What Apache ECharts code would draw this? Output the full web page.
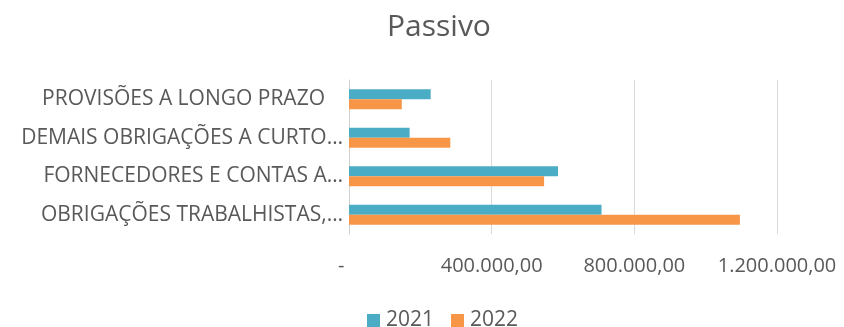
<!DOCTYPE html>
<html>
<head>
<meta charset="utf-8">
<script src="https://cdn.jsdelivr.net/npm/echarts@6/dist/echarts.min.js"></script>
<style>
  html, body { margin: 0; padding: 0; background: #fff; }
  #chart { width: 844px; height: 327px; }
</style>
</head>
<body>
<div id="chart"></div>
<script>
// Balance sheet liabilities, by account, for two years
const categories = [
  'OBRIGAÇÕES TRABALHISTAS,…',
  'FORNECEDORES E CONTAS A…',
  'DEMAIS OBRIGAÇÕES A CURTO…',
  'PROVISÕES A LONGO PRAZO'
];
const values2021 = [708000, 586000, 170000, 229000];
const values2022 = [1096000, 547000, 284000, 148000];
const seriesNames = ['2021', '2022'];
const axisMax = 1200000;
const axisStep = 400000;

const textColor = '#595959';
const fontFamily = '"Open Sans", "DejaVu Sans", sans-serif';

function brNumber(v) {
  if (v === 0) return '-   ';
  const parts = v.toFixed(2).split('.');
  const intPart = parts[0].replace(/\B(?=(\d{3})+(?!\d))/g, '.');
  return intPart + ',' + parts[1];
}

// Untruncated labels sit a little further from the axis
const categoryItems = categories.map(function (name) {
  const full = name.slice(-1) !== '…';
  return full ? { value: name, textStyle: { padding: [0, 18, 0, 0] } } : name;
});

const chart = echarts.init(document.getElementById('chart'), null, { renderer: 'canvas' });
chart.setOption({
  animation: false,
  backgroundColor: '#ffffff',
  title: {
    text: 'Passivo',
    left: 382,
    top: 7,
    textStyle: { fontFamily, fontSize: 30, fontWeight: 'normal', color: textColor }
  },
  legend: {
    data: seriesNames,
    left: 362,
    top: 305,
    itemWidth: 13,
    itemHeight: 13,
    itemGap: 17,
    icon: 'rect',
    textStyle: { fontFamily, fontSize: 21, color: textColor, padding: [0, 0, 0, 1] }
  },
  grid: { left: 349, top: 80, width: 428, height: 154, containLabel: false },
  xAxis: {
    type: 'value',
    min: 0,
    max: axisMax,
    interval: axisStep,
    axisLine: { show: false },
    axisTick: { show: false },
    splitLine: { show: true, lineStyle: { color: '#d9d9d9', width: 1 } },
    axisLabel: {
      fontFamily, fontSize: 20, color: textColor, margin: 22,
      formatter: brNumber
    }
  },
  yAxis: {
    type: 'category',
    data: categoryItems,
    axisLine: { show: true, lineStyle: { color: '#d0d0d0', width: 1 } },
    axisTick: { show: false },
    axisLabel: { fontFamily, fontSize: 21, color: textColor, margin: 6 }
  },
  series: [
    {
      name: seriesNames[0], type: 'bar', data: values2021,
      itemStyle: { color: '#4BACC6' },
      barGap: '0%', barCategoryGap: '48%'
    },
    {
      name: seriesNames[1], type: 'bar', data: values2022,
      itemStyle: { color: '#F79646' },
      barGap: '0%', barCategoryGap: '48%'
    }
  ]
});
</script>
</body>
</html>
